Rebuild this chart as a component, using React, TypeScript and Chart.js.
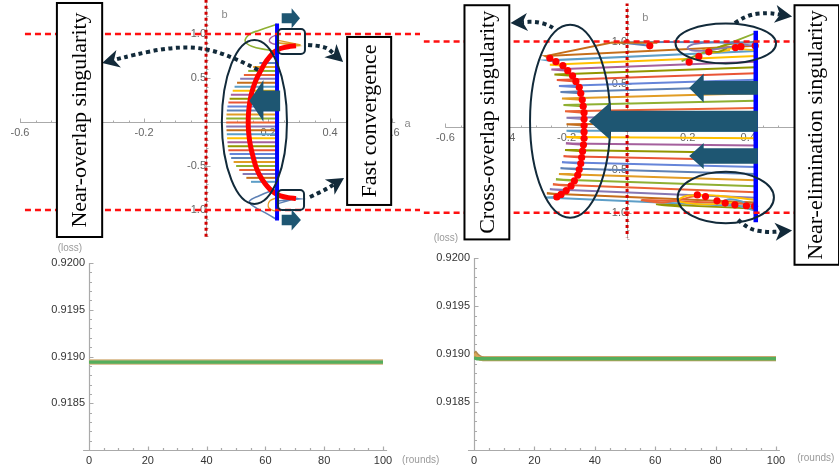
import React, { useEffect, useRef } from 'react';
import { Chart, registerables } from 'chart.js';

Chart.register(...registerables);

const PALETTE = ['#5E81B5', '#E19C24', '#8FB032', '#EB6235', '#8778B3', '#C56E1A', '#5D9EC7', '#FFBF00', '#A5609D', '#929600', '#E95536', '#6685D9'];
const SANS = '"Liberation Sans", Arial, sans-serif';
const SERIF = '"Liberation Serif", "Times New Roman", serif';
const NAVY = '#122A3A';
const TEAL = '#1E5672';
const AXIS = '#AAAAAA';

// ---------------- top-left panel ----------------
const tlXTicks = [-0.6, -0.4, -0.2, 0.2, 0.4, 0.6];
const tlYTicks = [-1.0, -0.5, 0.5, 1.0];
const tlBlueA = [0.229, 0.229];
const tlBlueB = [-1.12, 1.12];
const tlLineB = [0.67, 0.625, 0.58, 0.535, 0.49, 0.445, 0.4, 0.355, 0.31, 0.265, 0.22, 0.175, 0.13, 0.085, 0.04, -0.005, -0.05, -0.095, -0.14, -0.185, -0.23, -0.275, -0.32, -0.365, -0.41, -0.455, -0.5, -0.545, -0.59, -0.635, -0.68];
const tlLineLeftA = [0.172, 0.152, 0.136, 0.122, 0.11, 0.1, 0.092, 0.086, 0.08, 0.076, 0.072, 0.069, 0.067, 0.066, 0.065, 0.065, 0.065, 0.066, 0.067, 0.068, 0.069, 0.07, 0.072, 0.076, 0.081, 0.089, 0.097, 0.107, 0.118, 0.13, 0.145];
const tlRedA = [0.29, 0.265, 0.24, 0.222, 0.205, 0.19, 0.176, 0.164, 0.153, 0.145, 0.14, 0.137, 0.136, 0.137, 0.14, 0.145, 0.152, 0.16, 0.172, 0.19, 0.205, 0.222, 0.24, 0.265, 0.29];
const tlRedB = [0.865, 0.855, 0.835, 0.8, 0.74, 0.67, 0.58, 0.5, 0.4, 0.3, 0.2, 0.1, 0, -0.1, -0.2, -0.3, -0.4, -0.5, -0.6, -0.7, -0.76, -0.81, -0.84, -0.86, -0.87];
const tlGreenTopA = [0.229, 0.17, 0.142, 0.126, 0.147, 0.196, 0.229];
const tlGreenTopB = [1.11, 1.04, 1.0, 0.92, 0.86, 0.82, 0.8];
const tlPurpleTopA = [0.229, 0.21, 0.204, 0.214, 0.229];
const tlPurpleTopB = [0.99, 0.96, 0.92, 0.89, 0.88];
const tlSpikeTopA = [0.229, 0.305, 0.229, 0.295, 0.229];
const tlSpikeTopB = [0.93, 0.875, 0.9, 0.865, 0.845];
const tlBlueBotA = [0.229, 0.17, 0.14, 0.15, 0.2, 0.229];
const tlBlueBotB = [-0.76, -0.84, -0.9, -0.95, -1.05, -1.11];
const tlOrangeBotA = [0.229, 0.205, 0.203, 0.229];
const tlOrangeBotB = [-0.86, -0.9, -0.98, -1.02];
const tlSpikeBotA = [0.229, 0.305, 0.229, 0.295, 0.229];
const tlSpikeBotB = [-0.84, -0.875, -0.9, -0.865, -0.93];
const tlRefA = [-0.584, 0.69];
const tlRefB = [1, -1];
const tlZeroB = [1.39, -1.307];

// ---------------- top-right panel ----------------
const trXTicks = [-0.6, -0.4, -0.2, 0.2, 0.4, 0.6];
const trYTicks = [-1.0, -0.5, 0.5, 1.0];
const trBlueA = [0.425, 0.425];
const trBlueB = [-1.11, 1.125];
const trRightB = [0.95, 0.89, 0.83, 0.765, 0.7, 0.63, 0.555, 0.475, 0.395, 0.31, 0.225, 0.14, 0.05, -0.04, -0.13, -0.215, -0.3, -0.385, -0.465, -0.545, -0.62, -0.69, -0.76, -0.825, -0.88, -0.93];
const trTurnA = [-0.27, -0.262, -0.255, -0.25, -0.24, -0.232, -0.225, -0.22, -0.215, -0.21, -0.205, -0.2, -0.2, -0.2, -0.2, -0.202, -0.205, -0.21, -0.215, -0.22, -0.225, -0.235, -0.245, -0.255, -0.265, -0.27];
const trTurnB = [0.83, 0.78, 0.73, 0.675, 0.615, 0.55, 0.48, 0.41, 0.335, 0.26, 0.185, 0.11, 0.035, -0.04, -0.115, -0.19, -0.265, -0.34, -0.41, -0.48, -0.545, -0.61, -0.67, -0.725, -0.775, -0.82];
const trEndA = [-0.255, -0.235, -0.212, -0.196, -0.18, -0.169, -0.158, -0.153, -0.148, -0.145, -0.142, -0.142, -0.142, -0.142, -0.142, -0.144, -0.147, -0.15, -0.153, -0.158, -0.163, -0.174, -0.185, -0.201, -0.218, -0.232];
const trEndB = [0.805, 0.765, 0.72, 0.66, 0.6, 0.535, 0.465, 0.395, 0.32, 0.245, 0.17, 0.095, 0.02, -0.055, -0.13, -0.205, -0.28, -0.355, -0.425, -0.495, -0.56, -0.625, -0.685, -0.74, -0.785, -0.815];
const trBrownTopA = [0.1, -0.05, -0.27];
const trBrownTopB = [0.985, 0.99, 0.83];
const trBlueTopA = [0.425, 0.13, -0.02, 0.075];
const trBlueTopB = [0.99, 0.995, 0.99, 0.95];
const trPurpleTopA = [0.425, 0.3, 0.22, 0.2, 0.24, 0.31, 0.36];
const trPurpleTopB = [0.95, 0.99, 0.97, 0.92, 0.89, 0.92, 0.95];
const trOliveTopA = [0.425, 0.34, 0.3, 0.27, 0.3, 0.33];
const trOliveTopB = [1.0, 0.97, 0.93, 0.9, 0.88, 0.92];
const trGreenTopA = [0.425, 0.33, 0.26, 0.2, 0.18];
const trGreenTopB = [1.1, 0.97, 0.88, 0.8, 0.77];
const trOrangeTopA = [0.425, 0.32, 0.25, 0.27, 0.34];
const trOrangeTopB = [0.9, 0.92, 0.9, 0.87, 0.9];
const trDotsTopA = [0.075, 0.205, 0.237, 0.27, 0.358, 0.376, 0.423];
const trDotsTopB = [0.95, 0.76, 0.826, 0.88, 0.93, 0.94, 0.95];
const trOrangeBotA = [0.425, 0.3, 0.2, 0.17, 0.25, 0.35];
const trOrangeBotB = [-0.85, -0.8, -0.8, -0.86, -0.9, -0.88];
const trBlueBotA = [0.425, 0.37, 0.32, 0.34, 0.39, 0.41];
const trBlueBotB = [-0.98, -0.92, -0.87, -0.84, -0.88, -0.93];
const trRedBotA = [0.425, 0.05, 0.12, 0.23];
const trRedBotB = [-0.9, -0.85, -0.88, -0.8];
const trOliveBotA = [0.425, 0.1, 0.18];
const trOliveBotB = [-0.95, -0.9, -0.93];
const trDotsBotA = [0.232, 0.259, 0.297, 0.324, 0.356, 0.394, 0.421];
const trDotsBotB = [-0.79, -0.81, -0.86, -0.886, -0.906, -0.917, -0.924];
const trRefA = [-0.672, 0.6];
const trRefB = [1, -1];
const trZeroB = [1.45, -1.284];

// ---------------- loss panels ----------------
const lossYTicks = [0.9185, 0.919, 0.9195, 0.92];
const roundTicks = [0, 20, 40, 60, 80, 100];
const blRounds = [0, 25, 50, 75, 100];
const blLossTan = [0.91894, 0.91894, 0.91894, 0.91894, 0.91894];
const blLossGreen = [0.91894, 0.91894, 0.91894, 0.91894, 0.91894];
const brRounds = [0, 1, 2, 3, 4, 100];
const brLossBrown = [0.91902, 0.91898, 0.91896, 0.91895, 0.91895, 0.91895];
const brLossOrange = [0.919, 0.91897, 0.91895, 0.91895, 0.91895, 0.91895];
const brLossGreen = [0.91896, 0.91895, 0.91895, 0.91895, 0.91895, 0.91895];

type XY = { x: number; y: number };
const pts = (a: number[], b: number[]): XY[] => a.map((v, i) => ({ x: v, y: b[i] }));
const lineDs = (data: XY[], color: string, width: number, order: number, extra: any = {}) => ({
  data,
  borderColor: color,
  backgroundColor: color,
  borderWidth: width,
  showLine: true,
  pointRadius: 0,
  pointHoverRadius: 0,
  pointBorderWidth: 0,
  order,
  tension: 0,
  ...extra,
});
const dotDs = (data: XY[], color: string, r: number, order: number) => ({
  data,
  borderColor: color,
  backgroundColor: color,
  borderWidth: 0,
  pointBorderWidth: 0,
  showLine: false,
  pointRadius: r,
  pointHoverRadius: r,
  order,
});

function P(chart: any, a: number, b: number): [number, number] {
  return [chart.scales.x.getPixelForValue(a), chart.scales.y.getPixelForValue(b)];
}

function drawEllipse(ctx: CanvasRenderingContext2D, chart: any, e: any) {
  const [cx, cy] = P(chart, e.a, e.b);
  const rx = Math.abs(P(chart, e.a + e.ra, e.b)[0] - cx);
  const ry = Math.abs(P(chart, e.a, e.b + e.rb)[1] - cy);
  ctx.beginPath();
  ctx.ellipse(cx, cy, rx, ry, 0, 0, Math.PI * 2);
  ctx.strokeStyle = NAVY;
  ctx.lineWidth = 2;
  ctx.setLineDash([]);
  ctx.stroke();
}

function drawRoundBox(ctx: CanvasRenderingContext2D, chart: any, r: any) {
  const [x1, y1] = P(chart, r.a1, r.b1);
  const [x2, y2] = P(chart, r.a2, r.b2);
  ctx.beginPath();
  (ctx as any).roundRect(x1, y1, x2 - x1, y2 - y1, 4);
  ctx.strokeStyle = NAVY;
  ctx.lineWidth = 2;
  ctx.setLineDash([]);
  ctx.stroke();
}

function drawBlockArrow(ctx: CanvasRenderingContext2D, chart: any, s: any) {
  const poly = [
    [s.tipA, s.b],
    [s.headA, s.b + s.headHalf],
    [s.headA, s.b + s.shaftHalf],
    [s.endA, s.b + s.shaftHalf],
    [s.endA, s.b - s.shaftHalf],
    [s.headA, s.b - s.shaftHalf],
    [s.headA, s.b - s.headHalf],
  ];
  ctx.beginPath();
  poly.forEach((p, i) => {
    const [x, y] = P(chart, p[0], p[1]);
    if (i === 0) ctx.moveTo(x, y);
    else ctx.lineTo(x, y);
  });
  ctx.closePath();
  ctx.fillStyle = TEAL;
  ctx.fill();
}

function drawDottedArrow(ctx: CanvasRenderingContext2D, chart: any, d: any) {
  const ps = d.pts.map((p: number[]) => P(chart, p[0], p[1]));
  const tip = P(chart, d.tip[0], d.tip[1]);
  const last = ps[ps.length - 1];
  const dx = tip[0] - last[0];
  const dy = tip[1] - last[1];
  const len = Math.hypot(dx, dy) || 1;
  const ux = dx / len;
  const uy = dy / len;
  const headLen = 17;
  const halfW = 9;
  const notch: [number, number] = [tip[0] - ux * headLen * 0.72, tip[1] - uy * headLen * 0.72];
  const all = [...ps, notch];
  ctx.beginPath();
  ctx.moveTo(all[0][0], all[0][1]);
  for (let i = 1; i < all.length - 1; i++) {
    const mx = (all[i][0] + all[i + 1][0]) / 2;
    const my = (all[i][1] + all[i + 1][1]) / 2;
    ctx.quadraticCurveTo(all[i][0], all[i][1], mx, my);
  }
  ctx.lineTo(notch[0], notch[1]);
  ctx.setLineDash([4, 3.5]);
  ctx.lineWidth = 4;
  ctx.lineCap = 'butt';
  ctx.strokeStyle = NAVY;
  ctx.stroke();
  ctx.setLineDash([]);
  const bx = tip[0] - ux * headLen;
  const by = tip[1] - uy * headLen;
  ctx.beginPath();
  ctx.moveTo(tip[0], tip[1]);
  ctx.lineTo(bx - uy * halfW, by + ux * halfW);
  ctx.lineTo(notch[0], notch[1]);
  ctx.lineTo(bx + uy * halfW, by - ux * halfW);
  ctx.closePath();
  ctx.fillStyle = NAVY;
  ctx.fill();
}

function drawTextBox(ctx: CanvasRenderingContext2D, chart: any, t: any) {
  const [x1, y1] = P(chart, t.a1, t.b1);
  const [x2, y2] = P(chart, t.a2, t.b2);
  ctx.setLineDash([]);
  ctx.fillStyle = '#ffffff';
  ctx.fillRect(x1, y1, x2 - x1, y2 - y1);
  ctx.strokeStyle = '#000000';
  ctx.lineWidth = 2;
  ctx.strokeRect(x1, y1, x2 - x1, y2 - y1);
  const cx = t.textA !== undefined ? P(chart, t.textA, 0)[0] : (x1 + x2) / 2;
  const cy = (y1 + y2) / 2;
  ctx.save();
  ctx.translate(cx, cy);
  ctx.rotate(-Math.PI / 2);
  ctx.font = `22px ${SERIF}`;
  ctx.fillStyle = '#000000';
  ctx.textAlign = 'center';
  ctx.textBaseline = 'middle';
  ctx.fillText(t.text, 0, 1);
  ctx.restore();
}

function tickValues(from: number, to: number, step: number): number[] {
  const out: number[] = [];
  const n = Math.round((to - from) / step);
  for (let i = 0; i <= n; i++) out.push(from + i * step);
  return out;
}
const isMajor = (v: number, major: number, base = 0) => Math.abs((v - base) / major - Math.round((v - base) / major)) < 1e-6;

function drawCrossAxes(ctx: CanvasRenderingContext2D, chart: any, ax: any) {
  ctx.save();
  ctx.strokeStyle = AXIS;
  ctx.lineWidth = 1;
  ctx.setLineDash([]);
  const [x0, y0] = P(chart, ax.xFrom, 0);
  const [x1] = P(chart, ax.xTo, 0);
  const yy = Math.round(y0) + 0.5;
  ctx.beginPath();
  ctx.moveTo(x0, yy);
  ctx.lineTo(x1, yy);
  const [xa, ya0] = P(chart, 0, ax.yFrom);
  const [, ya1] = P(chart, 0, ax.yTo);
  const xx = Math.round(xa) + 0.5;
  ctx.moveTo(xx, ya0);
  ctx.lineTo(xx, ya1);
  tickValues(ax.xFrom, ax.xTo, ax.xMinor).forEach((v) => {
    const px = Math.round(P(chart, v, 0)[0]) + 0.5;
    const l = isMajor(v, ax.xMajor) ? 4 : 2;
    ctx.moveTo(px, yy);
    ctx.lineTo(px, yy - l);
  });
  tickValues(ax.yTickFrom, ax.yTickTo, ax.yMinor).forEach((v) => {
    const py = Math.round(P(chart, 0, v)[1]) + 0.5;
    const l = isMajor(v, ax.yMajor) ? 4 : 2;
    ctx.moveTo(xx, py);
    ctx.lineTo(xx + l, py);
  });
  ctx.stroke();
  ctx.fillStyle = '#8A8A8A';
  ctx.font = `11px ${SANS}`;
  ctx.textBaseline = 'middle';
  ctx.textAlign = 'left';
  ax.labels.forEach((l: any) => {
    const [lx, ly] = P(chart, l.a, l.b);
    ctx.fillText(l.text, lx, ly);
  });
  ctx.restore();
}

function drawBoxAxes(ctx: CanvasRenderingContext2D, chart: any, ax: any) {
  ctx.save();
  ctx.strokeStyle = AXIS;
  ctx.lineWidth = 1.2;
  ctx.setLineDash([]);
  const [x0, y0] = P(chart, ax.xFrom, ax.yMin);
  const [x1] = P(chart, ax.xTo, ax.yMin);
  const yy = Math.round(y0) + 0.5;
  const [xa, yTop] = P(chart, 0, ax.yMax);
  const xx = Math.round(xa) + 0.5;
  ctx.beginPath();
  ctx.moveTo(x0, yy);
  ctx.lineTo(x1, yy);
  ctx.moveTo(xx, yy);
  ctx.lineTo(xx, yTop);
  tickValues(0, 100, 5).forEach((v) => {
    const px = Math.round(P(chart, v, ax.yMin)[0]) + 0.5;
    const l = isMajor(v, 20) ? 4 : 2.5;
    ctx.moveTo(px, yy);
    ctx.lineTo(px, yy - l);
  });
  tickValues(ax.yMin, ax.yMax, 0.0001).forEach((v) => {
    const py = Math.round(P(chart, 0, v)[1]) + 0.5;
    const l = isMajor(v, 0.0005, ax.yMin) ? 4 : 2.5;
    ctx.moveTo(xx, py);
    ctx.lineTo(xx + l, py);
  });
  ctx.stroke();
  ctx.fillStyle = '#9A9A9A';
  ctx.font = `10px ${SANS}`;
  ctx.textBaseline = 'middle';
  ax.labels.forEach((l: any) => {
    const [lx, ly] = P(chart, l.x, l.y);
    ctx.textAlign = l.align;
    ctx.fillText(l.text, lx, ly);
  });
  ctx.restore();
}

function annotPlugin(spec: any) {
  return {
    id: 'annot',
    beforeDatasetsDraw(chart: any) {
      const ctx = chart.ctx as CanvasRenderingContext2D;
      if (spec.cross) drawCrossAxes(ctx, chart, spec.cross);
      if (spec.box) drawBoxAxes(ctx, chart, spec.box);
    },
    afterDraw(chart: any) {
      const ctx = chart.ctx as CanvasRenderingContext2D;
      ctx.save();
      (spec.ellipses || []).forEach((e: any) => drawEllipse(ctx, chart, e));
      (spec.roundBoxes || []).forEach((r: any) => drawRoundBox(ctx, chart, r));
      (spec.blockArrows || []).forEach((s: any) => drawBlockArrow(ctx, chart, s));
      (spec.dotted || []).forEach((d: any) => drawDottedArrow(ctx, chart, d));
      (spec.textBoxes || []).forEach((t: any) => drawTextBox(ctx, chart, t));
      ctx.restore();
    },
  };
}

const fmtTop = (v: number) => (Math.abs(v) < 1e-9 ? '' : v.toFixed(1));
const zeroPad = (s: any) => {
  s.paddingLeft = 0;
  s.paddingRight = 0;
  s.paddingTop = 0;
  s.paddingBottom = 0;
};

function crossScales(xMin: number, xMax: number, yMin: number, yMax: number, xTicks: number[], yTicks: number[]) {
  const tickFont = { family: SANS, size: 11 };
  return {
    x: {
      type: 'linear',
      min: xMin,
      max: xMax,
      position: { y: 0 },
      grid: { display: false, drawTicks: false },
      border: { display: false },
      afterBuildTicks: (s: any) => {
        s.ticks = xTicks.map((v) => ({ value: v }));
      },
      afterFit: zeroPad,
      ticks: { color: '#666666', font: tickFont, padding: 4, autoSkip: false, maxRotation: 0, minRotation: 0, callback: (v: any) => fmtTop(Number(v)) },
    },
    y: {
      type: 'linear',
      min: yMin,
      max: yMax,
      position: { x: 0 },
      grid: { display: false, drawTicks: false },
      border: { display: false },
      afterBuildTicks: (s: any) => {
        s.ticks = yTicks.map((v) => ({ value: v }));
      },
      afterFit: zeroPad,
      ticks: { color: '#666666', font: tickFont, padding: 4, autoSkip: false, callback: (v: any) => fmtTop(Number(v)) },
    },
  };
}

function baseOptions(scales: any, padding: any) {
  return {
    responsive: false,
    animation: false,
    devicePixelRatio: 1,
    events: [],
    layout: { padding },
    plugins: { legend: { display: false }, tooltip: { enabled: false } },
    scales,
  };
}

function tlConfig(): any {
  const ds: any[] = [];
  tlLineB.forEach((b, i) => {
    ds.push(lineDs(pts([tlBlueA[0], tlLineLeftA[i]], [b, b]), PALETTE[i % PALETTE.length], 2, 10));
  });
  ds.push(lineDs(pts(tlGreenTopA, tlGreenTopB), PALETTE[2], 1.6, 9, { tension: 0.4 }));
  ds.push(lineDs(pts(tlPurpleTopA, tlPurpleTopB), PALETTE[8], 1.4, 9, { tension: 0.4 }));
  ds.push(lineDs(pts(tlSpikeTopA, tlSpikeTopB), PALETTE[1], 1.3, 9));
  ds.push(lineDs(pts(tlBlueBotA, tlBlueBotB), PALETTE[0], 1.6, 9, { tension: 0.4 }));
  ds.push(lineDs(pts(tlOrangeBotA, tlOrangeBotB), PALETTE[1], 1.4, 9, { tension: 0.4 }));
  ds.push(lineDs(pts(tlSpikeBotA, tlSpikeBotB), PALETTE[0], 1.3, 9));
  ds.push(lineDs(pts(tlRedA, tlRedB), '#FF0000', 5, 5, { tension: 0.3 }));
  ds.push(lineDs(pts(tlBlueA, tlBlueB), '#0000FF', 4, 3));
  tlRefB.forEach((b) => ds.push(lineDs(pts(tlRefA, [b, b]), '#FF1010', 2.5, 1, { borderDash: [6, 4] })));
  ds.push(lineDs(pts([0, 0], tlZeroB), '#D00000', 3, 1, { borderDash: [3, 3] }));
  const spec = {
    cross: {
      xFrom: -0.6, xTo: 0.61, xMinor: 0.05, xMajor: 0.2,
      yFrom: -1.3, yTo: 1.35, yTickFrom: -1.3, yTickTo: 1.3, yMinor: 0.1, yMajor: 0.5,
      labels: [
        { a: 0.64, b: -0.02, text: 'a' },
        { a: 0.05, b: 1.216, text: 'b' },
      ],
    },
    ellipses: [{ a: 0.156, b: 0.0, ra: 0.105, rb: 0.932 }],
    roundBoxes: [
      { a1: 0.232, a2: 0.319, b1: 1.057, b2: 0.773 },
      { a1: 0.232, a2: 0.316, b1: -0.773, b2: -1.0 },
    ],
    blockArrows: [
      { tipA: 0.14, b: 0.24, headA: 0.185, headHalf: 0.237, shaftHalf: 0.118, endA: 0.239 },
      { tipA: 0.303, b: 1.178, headA: 0.276, headHalf: 0.113, shaftHalf: 0.057, endA: 0.244 },
      { tipA: 0.306, b: -1.114, headA: 0.276, headHalf: 0.12, shaftHalf: 0.06, endA: 0.244 },
    ],
    dotted: [
      { pts: [[0.168, 0.591], [0.087, 0.739], [-0.019, 0.852], [-0.126, 0.841], [-0.235, 0.761]], tip: [-0.335, 0.67] },
      { pts: [[0.329, 0.875], [0.384, 0.864]], tip: [0.442, 0.682] },
      { pts: [[0.335, -0.852], [0.384, -0.773]], tip: [0.445, -0.636] },
    ],
    textBoxes: [
      { a1: -0.481, a2: -0.335, b1: 1.352, b2: -1.307, text: 'Near-overlap singularity' },
      { a1: 0.455, a2: 0.597, b1: 0.966, b2: -0.943, text: 'Fast convergence' },
    ],
  };
  return {
    type: 'scatter',
    data: { datasets: ds },
    options: baseOptions(crossScales(-0.6645, 0.69, -1.682, 1.386, tlXTicks, tlYTicks), 0),
    plugins: [annotPlugin(spec)],
  };
}

function trConfig(): any {
  const ds: any[] = [];
  trRightB.forEach((b, i) => {
    ds.push(
      lineDs(pts([trBlueA[0], trTurnA[i], trEndA[i]], [b, trTurnB[i], trEndB[i]]), PALETTE[(i + 5) % PALETTE.length], 2, 10),
    );
  });
  ds.push(lineDs(pts(trBrownTopA, trBrownTopB), PALETTE[5], 2, 9));
  ds.push(lineDs(pts(trBlueTopA, trBlueTopB), PALETTE[0], 2, 9));
  ds.push(lineDs(pts(trPurpleTopA, trPurpleTopB), PALETTE[4], 1.8, 9, { tension: 0.4 }));
  ds.push(lineDs(pts(trOliveTopA, trOliveTopB), PALETTE[9], 1.8, 9, { tension: 0.4 }));
  ds.push(lineDs(pts(trGreenTopA, trGreenTopB), PALETTE[2], 1.8, 9, { tension: 0.3 }));
  ds.push(lineDs(pts(trOrangeTopA, trOrangeTopB), PALETTE[7], 1.8, 9, { tension: 0.4 }));
  ds.push(lineDs(pts(trOrangeBotA, trOrangeBotB), PALETTE[7], 1.8, 9, { tension: 0.4 }));
  ds.push(lineDs(pts(trBlueBotA, trBlueBotB), PALETTE[6], 1.8, 9, { tension: 0.4 }));
  ds.push(lineDs(pts(trRedBotA, trRedBotB), PALETTE[3], 1.8, 9, { tension: 0.3 }));
  ds.push(lineDs(pts(trOliveBotA, trOliveBotB), PALETTE[9], 1.8, 9, { tension: 0.3 }));
  ds.push(dotDs(pts(trEndA, trEndB), '#FF0000', 3.6, 5));
  ds.push(dotDs(pts(trDotsTopA, trDotsTopB), '#FF0000', 3.6, 5));
  ds.push(dotDs(pts(trDotsBotA, trDotsBotB), '#FF0000', 3.6, 5));
  ds.push(lineDs(pts(trBlueA, trBlueB), '#0000FF', 4.5, 3));
  trRefB.forEach((b) => ds.push(lineDs(pts(trRefA, [b, b]), '#FF1010', 2.5, 1, { borderDash: [6, 4] })));
  ds.push(lineDs(pts([0, 0], trZeroB), '#D00000', 3, 1, { borderDash: [3, 3] }));
  const spec = {
    cross: {
      xFrom: -0.6, xTo: 0.6, xMinor: 0.05, xMajor: 0.2,
      yFrom: -1.3, yTo: 1.4, yTickFrom: -1.3, yTickTo: 1.3, yMinor: 0.1, yMajor: 0.5,
      labels: [{ a: 0.05, b: 1.27, text: 'b' }],
    },
    ellipses: [
      { a: -0.188, b: 0.07, ra: 0.1325, rb: 1.127 },
      { a: 0.326, b: 0.977, ra: 0.166, rb: 0.233 },
      { a: 0.326, b: -0.82, ra: 0.159, rb: 0.3 },
    ],
    blockArrows: [
      { tipA: -0.126, b: 0.07, headA: -0.055, headHalf: 0.22, shaftHalf: 0.123, endA: 0.432 },
      { tipA: 0.205, b: 0.458, headA: 0.253, headHalf: 0.17, shaftHalf: 0.08, endA: 0.432 },
      { tipA: 0.205, b: -0.337, headA: 0.253, headHalf: 0.152, shaftHalf: 0.09, endA: 0.432 },
    ],
    dotted: [
      { pts: [[-0.245, 1.159], [-0.261, 1.197], [-0.304, 1.235]], tip: [-0.385, 1.216] },
      { pts: [[0.356, 1.216], [0.394, 1.31], [0.464, 1.337]], tip: [0.545, 1.292] },
      { pts: [[0.367, -1.08], [0.4, -1.193], [0.464, -1.227]], tip: [0.545, -1.205] },
    ],
    textBoxes: [
      { a1: -0.537, a2: -0.389, b1: 1.424, b2: -1.31, text: 'Cross-overlap singularity' },
      { a1: 0.553, a2: 0.7, b1: 1.424, b2: -1.606, textA: 0.62, text: 'Near-elimination singularity' },
    ],
  };
  return {
    type: 'scatter',
    data: { datasets: ds },
    options: baseOptions(crossScales(-0.672, 0.688, -1.625, 1.443, trXTicks, trYTicks), 0),
    plugins: [annotPlugin(spec)],
  };
}

function lossScales(yWidth: number) {
  const tickFont = { family: SANS, size: 11 };
  return {
    x: {
      type: 'linear',
      min: 0,
      max: 100,
      position: 'bottom',
      grid: { display: false, drawTicks: false },
      border: { display: false },
      afterBuildTicks: (s: any) => {
        s.ticks = roundTicks.map((v) => ({ value: v }));
      },
      afterFit: (s: any) => {
        s.height = 23;
      },
      ticks: { color: '#333333', font: tickFont, padding: 4, autoSkip: false, maxRotation: 0, minRotation: 0, callback: (v: any) => String(v) },
    },
    y: {
      type: 'linear',
      min: 0.918,
      max: 0.92,
      position: 'left',
      grid: { display: false, drawTicks: false },
      border: { display: false },
      afterBuildTicks: (s: any) => {
        s.ticks = lossYTicks.map((v) => ({ value: v }));
      },
      afterFit: (s: any) => {
        s.width = yWidth;
      },
      ticks: { color: '#333333', font: tickFont, padding: 4, autoSkip: false, callback: (v: any) => Number(v).toFixed(4) },
    },
  };
}

function blConfig(): any {
  const ds = [
    lineDs(pts(blRounds, blLossGreen), '#55AE5C', 3.4, 1),
    lineDs(pts(blRounds, blLossTan), '#D4B27E', 5.5, 2),
  ];
  const spec = {
    box: {
      xFrom: -2, xTo: 101.4, yMin: 0.918, yMax: 0.92,
      labels: [
        { x: -6.5, y: 0.92016, text: '(loss)', align: 'center' },
        { x: 106.5, y: 0.917893, text: '(rounds)', align: 'left' },
      ],
    },
  };
  return {
    type: 'scatter',
    data: { datasets: ds },
    options: baseOptions(lossScales(89), { top: 33, right: 57, bottom: 0, left: 0 }),
    plugins: [annotPlugin(spec)],
  };
}

function brConfig(): any {
  const ds = [
    lineDs(pts(brRounds, brLossGreen), '#55AE5C', 3.4, 1),
    lineDs(pts(brRounds, brLossOrange), '#D9A65A', 4, 2),
    lineDs(pts(brRounds, brLossBrown), '#B08A4E', 5, 3),
  ];
  const spec = {
    box: {
      xFrom: -2, xTo: 101.3, yMin: 0.918, yMax: 0.92,
      labels: [
        { x: -9.3, y: 0.920203, text: '(loss)', align: 'center' },
        { x: 107, y: 0.917917, text: '(rounds)', align: 'left' },
      ],
    },
  };
  return {
    type: 'scatter',
    data: { datasets: ds },
    options: baseOptions(lossScales(54), { top: 28, right: 63, bottom: 0, left: 0 }),
    plugins: [annotPlugin(spec)],
  };
}

export default function App() {
  const tl = useRef<HTMLCanvasElement>(null);
  const tr = useRef<HTMLCanvasElement>(null);
  const bl = useRef<HTMLCanvasElement>(null);
  const br = useRef<HTMLCanvasElement>(null);

  useEffect(() => {
    document.body.style.margin = '0';
    const charts = [
      new Chart(bl.current as HTMLCanvasElement, blConfig()),
      new Chart(br.current as HTMLCanvasElement, brConfig()),
      new Chart(tl.current as HTMLCanvasElement, tlConfig()),
      new Chart(tr.current as HTMLCanvasElement, trConfig()),
    ];
    return () => charts.forEach((c) => c.destroy());
  }, []);

  const abs = (left: number, top: number, w: number, h: number): React.CSSProperties => ({
    position: 'absolute',
    left,
    top,
    width: w,
    height: h,
    display: 'block',
  });

  return (
    <div style={{ position: 'relative', width: 839, height: 473, background: '#ffffff', overflow: 'hidden' }}>
      <canvas ref={bl} width={440} height={243} style={abs(0, 230, 440, 243)} />
      <canvas ref={br} width={419} height={243} style={abs(420, 230, 419, 243)} />
      <canvas ref={tl} width={420} height={270} style={abs(0, 0, 420, 270)} />
      <canvas ref={tr} width={419} height={270} style={abs(420, 0, 419, 270)} />
    </div>
  );
}
